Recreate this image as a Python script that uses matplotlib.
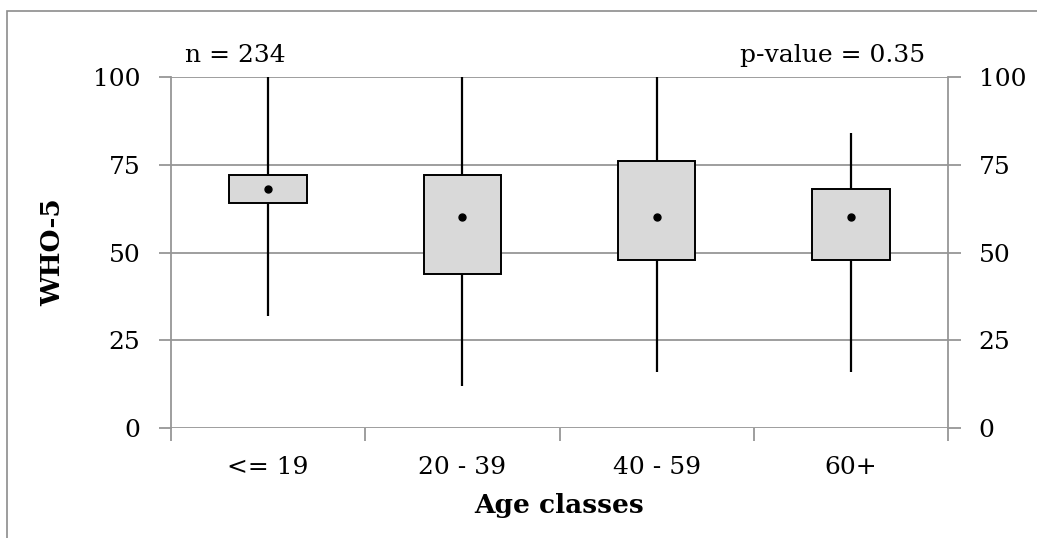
import matplotlib
matplotlib.use("Agg")
import matplotlib.pyplot as plt
from matplotlib.patches import Rectangle

categories = ["<= 19", "20 - 39", "40 - 59", "60+"]
whisker_low = [32, 12, 16, 16]
q1 = [64, 44, 48, 48]
median = [68, 60, 60, 60]
q3 = [72, 72, 76, 68]
whisker_high = [100, 100, 100, 84]
yticks = [0, 25, 50, 75, 100]

plt.rcParams['font.family'] = ['DejaVu Serif']
W, H = 1037, 538
fig = plt.figure(figsize=(W / 100, H / 100), dpi=100)

# outer chart frame
fig.patches.append(Rectangle((7 / W, -0.1), 1.2, 1 - 11 / H + 0.1, transform=fig.transFigure,
                             fill=False, edgecolor='#8c8c8c', linewidth=1.2))

ax = fig.add_axes([171 / W, 1 - 428 / H, (948 - 171) / W, (428 - 77) / H])
n = len(categories)
ax.set_xlim(0, n)
ax.set_ylim(0, 100)

grid_c = '#969696'
for y in yticks:
    ax.axhline(y, color=grid_c, linewidth=1.3, zorder=0)

bw = 0.4
for i in range(n):
    cx = i + 0.5
    ax.plot([cx, cx], [whisker_low[i], q1[i]], color='black', lw=1.6, zorder=2, solid_capstyle='butt')
    ax.plot([cx, cx], [q3[i], whisker_high[i]], color='black', lw=1.6, zorder=2, solid_capstyle='butt')
    ax.add_patch(Rectangle((cx - bw / 2, q1[i]), bw, q3[i] - q1[i], facecolor='#d9d9d9',
                           edgecolor='black', linewidth=1.4, zorder=3))
    ax.plot(cx, median[i], 'o', color='black', markersize=5, zorder=4)

for s in ['top', 'bottom']:
    ax.spines[s].set_visible(False)
for s in ['left', 'right']:
    ax.spines[s].set_color(grid_c)
    ax.spines[s].set_linewidth(1.3)

ax.set_yticks(yticks)
ax.tick_params(axis='y', which='both', left=True, right=True, labelleft=True, labelright=True,
               length=9, width=1.3, color=grid_c, labelsize=18, pad=13)
ax.set_xticks(range(n + 1))
ax.set_xticklabels([])
ax.set_xticks([i + 0.5 for i in range(n)], minor=True)
ax.set_xticklabels(categories, minor=True)
ax.tick_params(axis='x', which='major', length=9, width=1.3, color=grid_c)
ax.tick_params(axis='x', which='minor', length=0, labelsize=18, pad=20)

ax.set_ylabel("WHO-5", fontsize=19, fontweight='bold', labelpad=20)
ax.set_xlabel("Age classes", fontsize=19, fontweight='bold', labelpad=10)

fig.text(185 / W, 1 - 62 / H, "n = 234", fontsize=18, ha='left', va='baseline')
fig.text(925 / W, 1 - 62 / H, "p-value = 0.35", fontsize=18, ha='right', va='baseline')

fig.savefig("out.png", dpi=100)
